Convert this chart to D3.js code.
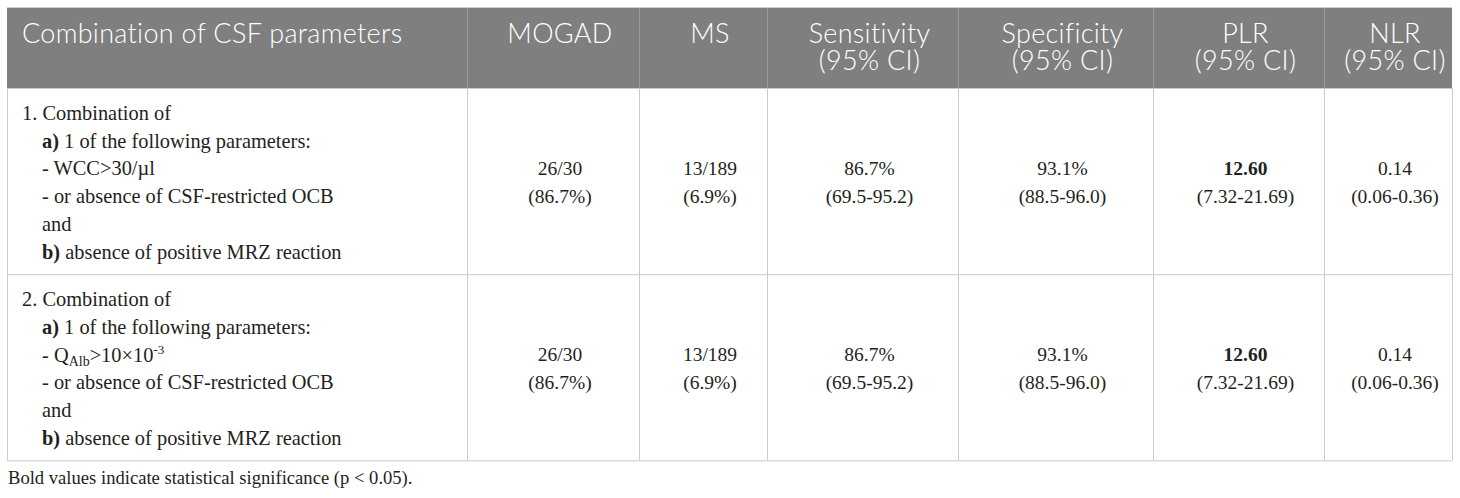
<!DOCTYPE html>
<html>
<head>
<meta charset="utf-8">
<script src="https://cdn.jsdelivr.net/npm/d3@7"></script>
<style>
  body { margin: 0; background: #fff; }
</style>
</head>
<body>
<svg id="chart" width="1460" height="498"></svg>
<script>
// table content
const headers = [
  ["Combination of CSF parameters"],
  ["MOGAD"],
  ["MS"],
  ["Sensitivity", "(95% CI)"],
  ["Specificity", "(95% CI)"],
  ["PLR", "(95% CI)"],
  ["NLR", "(95% CI)"]
];

// each criteria line is a list of runs: [text, style]
const criteria = [
  [
    [["1. Combination of"]],
    [["a)", "bold"], [" 1 of the following parameters:"]],
    [["- WCC>30/µl"]],
    [["- or absence of CSF-restricted OCB"]],
    [["and"]],
    [["b)", "bold"], [" absence of positive MRZ reaction"]]
  ],
  [
    [["2. Combination of"]],
    [["a)", "bold"], [" 1 of the following parameters:"]],
    [["- Q"], ["Alb", "sub"], [">10×10", "base"], ["-3", "sup"]],
    [["- or absence of CSF-restricted OCB"]],
    [["and"]],
    [["b)", "bold"], [" absence of positive MRZ reaction"]]
  ]
];

const mogad = [["26/30", "(86.7%)"], ["26/30", "(86.7%)"]];
const ms = [["13/189", "(6.9%)"], ["13/189", "(6.9%)"]];
const sensitivity = [["86.7%", "(69.5-95.2)"], ["86.7%", "(69.5-95.2)"]];
const specificity = [["93.1%", "(88.5-96.0)"], ["93.1%", "(88.5-96.0)"]];
const plr = [["12.60", "(7.32-21.69)"], ["12.60", "(7.32-21.69)"]];
const nlr = [["0.14", "(0.06-0.36)"], ["0.14", "(0.06-0.36)"]];
const boldColumns = [5];   // PLR point estimate is significant
const footnote = "Bold values indicate statistical significance (p < 0.05).";

// layout
const colWidths = [460, 172, 128, 191, 195, 171, 128];
const x0 = 7, y0 = 7, headH = 81, lineH = 27.7, rowPad = 20;
const serif = "'Liberation Serif', 'Times New Roman', serif";
const sans = "Lato, 'Open Sans', sans-serif";

const svg = d3.select("#chart");
const colX = d3.cumsum([x0, ...colWidths]);
const x1 = colX[colX.length - 1];
const valueCols = [mogad, ms, sensitivity, specificity, plr, nlr];

const rowH = criteria.map(c => c.length * lineH + rowPad);
const rowY = d3.cumsum([y0 + headH, ...rowH]);
const yEnd = rowY[rowY.length - 1];

// header band
svg.append("line")
  .attr("x1", x0).attr("x2", x1).attr("y1", y0 + 0.5).attr("y2", y0 + 0.5)
  .attr("stroke", "#cfcfcf");
svg.append("rect")
  .attr("x", x0).attr("y", y0 + 1).attr("width", x1 - x0).attr("height", headH - 1)
  .attr("fill", "#7f7f7f");

svg.selectAll(".hdiv").data(colX.slice(1, -1)).join("line")
  .attr("class", "hdiv")
  .attr("x1", d => d + 0.5).attr("x2", d => d + 0.5)
  .attr("y1", y0 + 1).attr("y2", y0 + headH)
  .attr("stroke", "#9a9a9a");

// header labels
const head = svg.selectAll(".head").data(headers).join("text")
  .attr("class", "head")
  .attr("font-family", sans).attr("font-size", 27).attr("font-weight", 300)
  .attr("letter-spacing", 0.3)
  .attr("fill", "#fff")
  .attr("text-anchor", (d, i) => i === 0 ? "start" : "middle");
head.selectAll("tspan").data((d, i) => d.map(t => ({ t, i }))).join("tspan")
  .attr("x", d => d.i === 0 ? colX[0] + 15 : (colX[d.i] + colX[d.i + 1]) / 2 + 7)
  .attr("y", (d, j) => y0 + 36 + j * 27)
  .text(d => d.t);

// body grid
svg.selectAll(".hline").data(rowY).join("line")
  .attr("class", "hline")
  .attr("x1", x0).attr("x2", x1)
  .attr("y1", d => d + 0.5).attr("y2", d => d + 0.5)
  .attr("stroke", "#cccccc");
svg.selectAll(".vline").data(colX).join("line")
  .attr("class", "vline")
  .attr("x1", d => d + 0.5).attr("x2", d => d + 0.5)
  .attr("y1", y0 + headH).attr("y2", yEnd)
  .attr("stroke", "#cccccc");

// criteria column
criteria.forEach((lines, r) => {
  lines.forEach((runs, k) => {
    const t = svg.append("text")
      .attr("x", k === 0 ? colX[0] + 15 : colX[0] + 35)
      .attr("y", rowY[r] + 32 + k * lineH)
      .attr("font-family", serif).attr("font-size", 20.4).attr("fill", "#231f20");
    let shift = 0;
    runs.forEach(([txt, style]) => {
      const s = t.append("tspan").text(txt);
      let target = 0;
      if (style === "bold") s.attr("font-weight", "bold");
      if (style === "sub") { s.attr("font-size", 14); target = 4; }
      if (style === "sup") { s.attr("font-size", 13); target = -8; }
      if (target !== shift) { s.attr("dy", target - shift); shift = target; }
    });
  });
});

// value columns
valueCols.forEach((col, c) => {
  const cx = (colX[c + 1] + colX[c + 2]) / 2 + 7;
  col.forEach((vals, r) => {
    const mid = (rowY[r] + rowY[r + 1]) / 2;
    svg.append("text")
      .attr("text-anchor", "middle")
      .attr("font-family", serif).attr("font-size", 19.5).attr("fill", "#231f20")
      .selectAll("tspan").data(vals).join("tspan")
      .attr("x", cx)
      .attr("y", (d, j) => mid - 6 + j * 28)
      .attr("font-weight", (d, j) => j === 0 && boldColumns.includes(c + 1) ? "bold" : null)
      .text(d => d);
  });
});

svg.append("text")
  .attr("x", x0 + 1).attr("y", yEnd + 24)
  .attr("font-family", serif).attr("font-size", 18.6).attr("fill", "#231f20")
  .text(footnote);
</script>
</body>
</html>
